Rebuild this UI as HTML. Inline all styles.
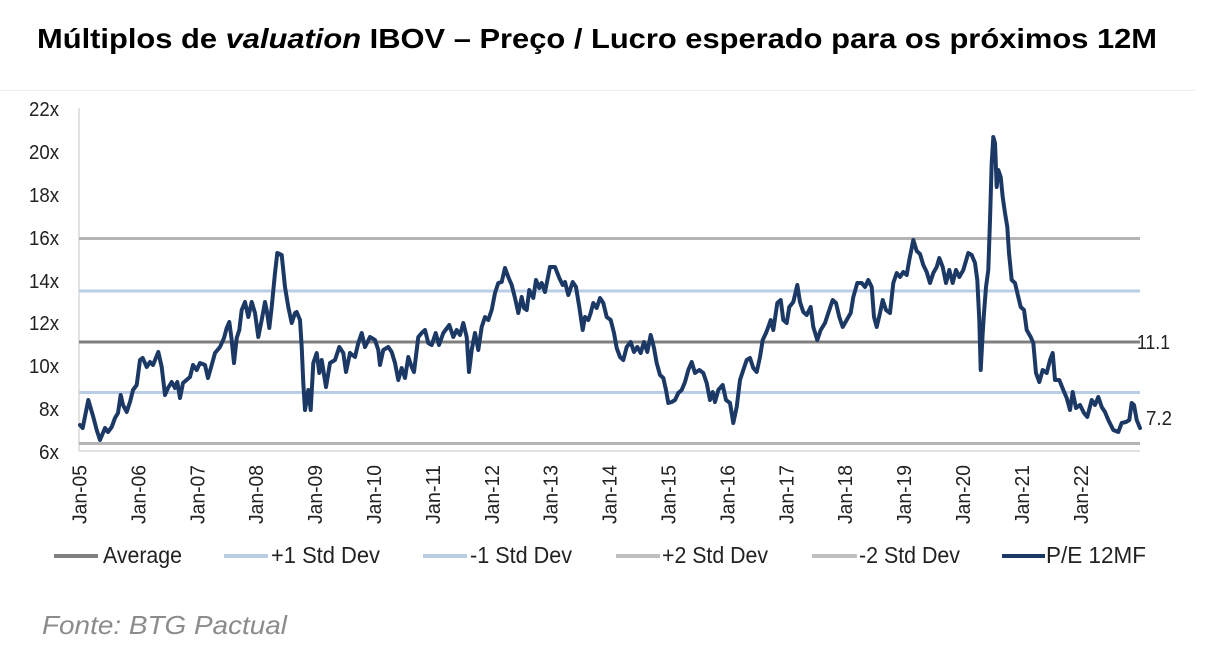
<!DOCTYPE html>
<html>
<head>
<meta charset="utf-8">
<style>
html,body{margin:0;padding:0;background:#fff;}
body{width:1213px;height:645px;overflow:hidden;}
svg{display:block;}
</style>
</head>
<body>
<svg width="1213" height="645" viewBox="0 0 1213 645" xmlns="http://www.w3.org/2000/svg">
<rect width="1213" height="645" fill="#fff"/>
<!-- Title -->
<text x="37" y="48" font-family="Liberation Sans, Arial, sans-serif" font-weight="bold" font-size="28" fill="#000" textLength="1120" lengthAdjust="spacingAndGlyphs">Múltiplos de <tspan font-style="italic">valuation</tspan> IBOV – Preço / Lucro esperado para os próximos 12M</text>
<line x1="0" y1="90.5" x2="1195" y2="90.5" stroke="#ececec" stroke-width="1"/>

<!-- axes -->
<line x1="79" y1="108" x2="79" y2="451" stroke="#d9d9d9" stroke-width="1.5"/>
<line x1="79" y1="451" x2="1140" y2="451" stroke="#d9d9d9" stroke-width="1.5"/>

<!-- reference lines -->
<line x1="79" y1="238.5" x2="1140" y2="238.5" stroke="#b4b4b4" stroke-width="3"/>
<line x1="79" y1="291" x2="1140" y2="291" stroke="#b9cde5" stroke-width="3"/>
<line x1="79" y1="342" x2="1140" y2="342" stroke="#7f7f7f" stroke-width="3"/>
<line x1="79" y1="392.5" x2="1140" y2="392.5" stroke="#b9cde5" stroke-width="3"/>
<line x1="79" y1="443.5" x2="1140" y2="443.5" stroke="#b4b4b4" stroke-width="3"/>

<!-- y labels -->
<g font-family="Liberation Sans, Arial, sans-serif" font-size="20" fill="#222" text-anchor="end">
<text x="59" y="116" textLength="30" lengthAdjust="spacingAndGlyphs">22x</text>
<text x="59" y="159" textLength="30" lengthAdjust="spacingAndGlyphs">20x</text>
<text x="59" y="202" textLength="30" lengthAdjust="spacingAndGlyphs">18x</text>
<text x="59" y="245" textLength="30" lengthAdjust="spacingAndGlyphs">16x</text>
<text x="59" y="288" textLength="30" lengthAdjust="spacingAndGlyphs">14x</text>
<text x="59" y="330" textLength="30" lengthAdjust="spacingAndGlyphs">12x</text>
<text x="59" y="373" textLength="30" lengthAdjust="spacingAndGlyphs">10x</text>
<text x="59" y="416" textLength="20" lengthAdjust="spacingAndGlyphs">8x</text>
<text x="59" y="459" textLength="20" lengthAdjust="spacingAndGlyphs">6x</text>
</g>

<!-- right labels -->
<g font-family="Liberation Sans, Arial, sans-serif" font-size="20" fill="#222">
<text x="1137" y="349" textLength="33" lengthAdjust="spacingAndGlyphs">11.1</text>
<text x="1146" y="425" textLength="26" lengthAdjust="spacingAndGlyphs">7.2</text>
</g>

<!-- x labels -->
<g font-family="Liberation Sans, Arial, sans-serif" font-size="20" fill="#222" text-anchor="end">
<text transform="translate(86.5,465) rotate(-90)" textLength="59" lengthAdjust="spacingAndGlyphs">Jan-05</text>
<text transform="translate(145.4,465) rotate(-90)" textLength="59" lengthAdjust="spacingAndGlyphs">Jan-06</text>
<text transform="translate(204.3,465) rotate(-90)" textLength="59" lengthAdjust="spacingAndGlyphs">Jan-07</text>
<text transform="translate(263.2,465) rotate(-90)" textLength="59" lengthAdjust="spacingAndGlyphs">Jan-08</text>
<text transform="translate(322.1,465) rotate(-90)" textLength="59" lengthAdjust="spacingAndGlyphs">Jan-09</text>
<text transform="translate(381,465) rotate(-90)" textLength="59" lengthAdjust="spacingAndGlyphs">Jan-10</text>
<text transform="translate(439.9,465) rotate(-90)" textLength="59" lengthAdjust="spacingAndGlyphs">Jan-11</text>
<text transform="translate(498.8,465) rotate(-90)" textLength="59" lengthAdjust="spacingAndGlyphs">Jan-12</text>
<text transform="translate(557.7,465) rotate(-90)" textLength="59" lengthAdjust="spacingAndGlyphs">Jan-13</text>
<text transform="translate(616.6,465) rotate(-90)" textLength="59" lengthAdjust="spacingAndGlyphs">Jan-14</text>
<text transform="translate(675.5,465) rotate(-90)" textLength="59" lengthAdjust="spacingAndGlyphs">Jan-15</text>
<text transform="translate(734.4,465) rotate(-90)" textLength="59" lengthAdjust="spacingAndGlyphs">Jan-16</text>
<text transform="translate(793.3,465) rotate(-90)" textLength="59" lengthAdjust="spacingAndGlyphs">Jan-17</text>
<text transform="translate(852.2,465) rotate(-90)" textLength="59" lengthAdjust="spacingAndGlyphs">Jan-18</text>
<text transform="translate(911.1,465) rotate(-90)" textLength="59" lengthAdjust="spacingAndGlyphs">Jan-19</text>
<text transform="translate(970,465) rotate(-90)" textLength="59" lengthAdjust="spacingAndGlyphs">Jan-20</text>
<text transform="translate(1028.9,465) rotate(-90)" textLength="59" lengthAdjust="spacingAndGlyphs">Jan-21</text>
<text transform="translate(1087.8,465) rotate(-90)" textLength="59" lengthAdjust="spacingAndGlyphs">Jan-22</text>
</g>

<!-- P/E series -->
<polyline fill="none" stroke="#1c3966" stroke-width="4" stroke-linejoin="round" stroke-linecap="round" points="
80,425 82.7,428 88.3,400 93.3,417 96.7,430 100,440 105,428 108,432 111.7,427 115,418 118,413 120.7,395 123,405 126.7,412 130,402 133,390 136.7,385 140,360 142.7,358 146.7,367 150,362 153,365 158.3,352 161.7,367 165,395 168,388 171.7,382 175,388 177.3,382 180,398 183,383 190,377 193,365 196.7,370 200,363 205,365 208,378 211.7,365 215,353 220,347 224,338 226.7,328 229.3,322 231.7,340 234,363 236.7,338 239.3,330 241.7,310 245,302 248.3,317 251.7,302 255,313 258.3,337 261.7,320 265,302 266.7,310 269.3,328 271.7,307 275,273 277.3,253 281.7,255 285,287 288.3,307 291.7,323 295,313
296.7,312 300,320 301.7,347 303.3,383 305,410 308.3,390 310.7,410 313.3,363 316.7,353 319.3,373 321.7,360 326,387 330,363 335,360 339.3,347 343.3,353 346,372 350,353 355,357 358.3,343 361.7,333 365,347 370,337 375,340 378.3,350 380,365 383.3,350 388.3,347 391.7,352 395,363 398.3,380 401.7,368 405,378 408.3,357 411.7,367 414,372 418.3,337 421.7,333 425,330 428.3,343 431.7,345 435.7,333 439,345 443.3,333 449.3,325 453.3,337 456.7,330 460,335 463.3,323 466.7,337 469,372 471.7,350 475,333 478.3,350 481.7,327 485,317 488.3,320 491.7,310 495,293 498.3,283
501.7,282 505,268 508.3,277 511.7,285 515,298 518.3,313 521.7,297 524,308 526.7,310 529.3,290 533.3,298 536,280 539.3,288 541.7,283 545,292 550,267 555,267 559.3,278 562.7,285 565,282 568.3,295 572.7,282 576,287 579.3,307 582.7,330 585,317 588.3,320 590.7,313 593.3,303 596.7,308 600,298 603.3,303 606.7,317 610.7,320 614,333 616.7,348 620,357 623.3,360 626.7,347 630.7,342 634,352 637.3,347 640.7,353 644,342 647.3,352 650.7,335 654,348 656.7,363 660,375 663.3,378 666,390 668.3,403 671.7,402 675,400 678.3,393 681.7,390 685,382 688.3,370 691.7,362 695,373 699.3,370
703.3,373 706.7,383 710,400 712.7,392 715,402 718.3,390 722.7,385 726,400 730,403 733.3,423 736.7,407 740,380 743.3,370 746.7,360 750,358 753.3,368 756.7,372 760,357 762.7,340 766,333 768.3,327 770.7,320 773.3,330 777.3,303 780.7,300 783.3,320 786.7,323 789.3,307 793.3,302 797.3,285 800,302 803.3,312 806.7,315 810.7,307 813.3,327 817.3,340 820.7,330 825,323 828.3,313 832.7,300 836,303 839.3,317 842.7,327 846.7,320 850.7,313 853.3,297 857.3,283 861.7,283 865,287 868.3,280 871.7,287 874,317 876.7,327 880,313 882.7,300 886,310 890,313 893.3,283 896.7,273 900,277 903.3,272 906.7,275 909.3,260 913.3,240 916.7,251 920,254
923.3,265 926.7,272 930,283 933.3,273 936.7,267 939.3,258 942.7,267 946,283 949.3,270 952.7,283 956,270 959.3,277 963.3,270 968.3,253 971.7,255 975,263 977.3,280 979.3,320 980.7,370 982.7,333 984,313 986,287 988.3,270 990,220 991.7,163 993.3,137 995,143 996.7,187 998.3,170 1000.7,177 1002.7,197 1005,213 1007.3,227 1009,253 1011.7,280 1015,283 1018.3,297 1020.7,307 1024,310 1026.7,330 1030.7,337 1033.3,343 1036,373 1039.3,382 1042.7,370 1046.7,373 1050,360 1052.7,353 1055,380 1059.3,380 1063.3,390 1066.7,398 1070,410 1072.7,392 1076,408 1080,405 1084,413 1087.3,417 1091.7,400 1095,405 1098.3,397 1101.7,407 1105,412 1108.3,420 1113.3,430 1118.3,432 1121.7,423 1126,422 1129.3,420 1131.7,403 1134,405 1136.7,420 1140,428"/>

<!-- legend -->
<g stroke-width="4">
<line x1="54" y1="556" x2="98" y2="556" stroke="#808080"/>
<line x1="224" y1="556" x2="268" y2="556" stroke="#b9cde5"/>
<line x1="423" y1="556" x2="467" y2="556" stroke="#b9cde5"/>
<line x1="616" y1="556" x2="660" y2="556" stroke="#c0c0c0"/>
<line x1="812" y1="556" x2="857" y2="556" stroke="#c0c0c0"/>
<line x1="1002" y1="556" x2="1045" y2="556" stroke="#1c3966"/>
</g>
<g font-family="Liberation Sans, Arial, sans-serif" font-size="23" fill="#222">
<text x="103" y="563" textLength="79" lengthAdjust="spacingAndGlyphs">Average</text>
<text x="271" y="563" textLength="109" lengthAdjust="spacingAndGlyphs">+1 Std Dev</text>
<text x="470" y="563" textLength="102" lengthAdjust="spacingAndGlyphs">-1 Std Dev</text>
<text x="662" y="563" textLength="106" lengthAdjust="spacingAndGlyphs">+2 Std Dev</text>
<text x="859" y="563" textLength="101" lengthAdjust="spacingAndGlyphs">-2 Std Dev</text>
<text x="1046" y="563" textLength="100" lengthAdjust="spacingAndGlyphs">P/E 12MF</text>
</g>

<!-- source -->
<text x="42" y="634" font-family="Liberation Sans, Arial, sans-serif" font-style="italic" font-size="26" fill="#8c8c8c" textLength="245" lengthAdjust="spacingAndGlyphs">Fonte: BTG Pactual</text>
</svg>
</body>
</html>
